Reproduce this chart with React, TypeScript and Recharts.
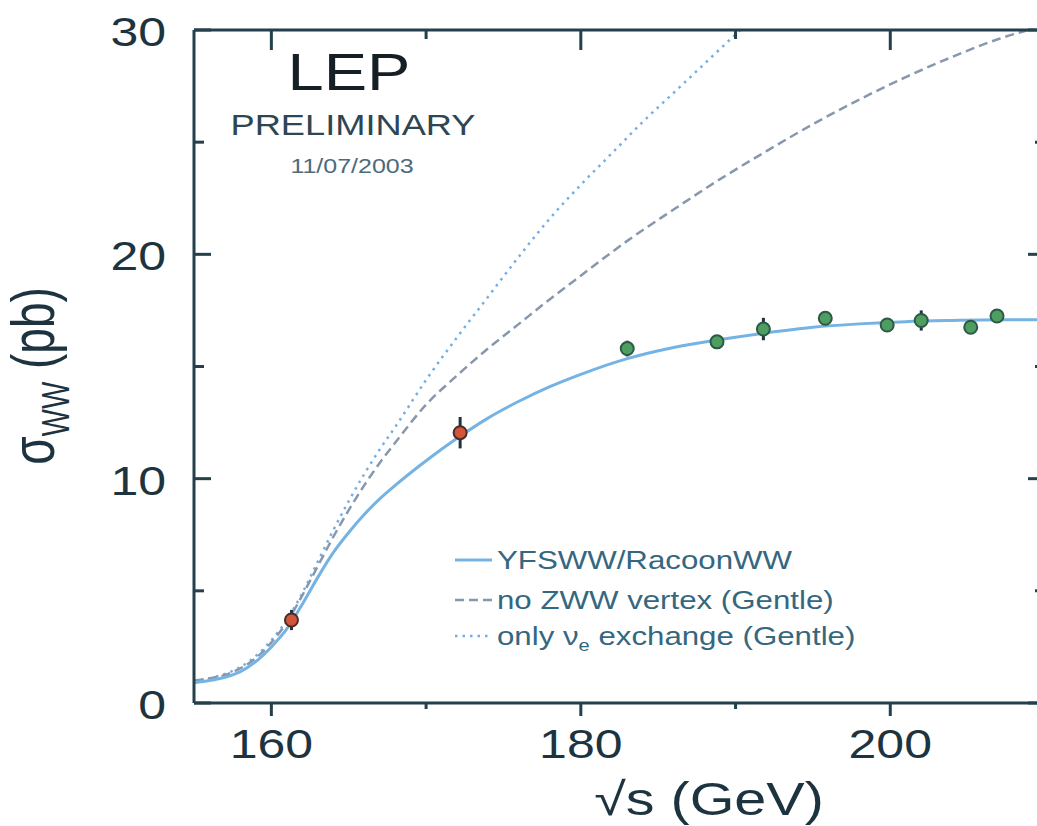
import { ComposedChart, Line, Scatter, ErrorBar, XAxis, YAxis, Legend } from 'recharts'

const FONT = '"Liberation Sans", Arial, Helvetica, sans-serif'
const FRAME = '#23404c'
const INK = '#1d3440'
const LEGEND_INK = '#35677f'
const SOLID = '#74b3e3'
const DASHED = '#8797ad'
const DOTTED = '#72aee6'
// the scanned plot is stretched sideways, so glyphs are too
const STRETCH = 1.25

// frame edges, follow from the axis sizes given below
const PLOT_LEFT = 194
const PLOT_RIGHT = 1045
const PLOT_TOP = 30
const PLOT_BOTTOM = 703

// sqrt(s) grid (GeV) for the YFSWW and no-ZWW curves
const energyGrid = [155, 156, 157, 158, 159, 160, 161, 162, 163, 164, 165, 166, 167, 168, 170, 172, 174, 176, 178, 180, 183, 186, 189, 192, 195, 198, 201, 204, 207, 210]
const yfswwXsec = [0.9, 1.0, 1.15, 1.4, 1.85, 2.5, 3.3, 4.4, 5.6, 6.7, 7.6, 8.4, 9.1, 9.7, 10.8, 11.8, 12.7, 13.45, 14.1, 14.65, 15.35, 15.85, 16.2, 16.5, 16.75, 16.9, 17.0, 17.05, 17.08, 17.08]
const noZwwXsec = [1.0, 1.1, 1.25, 1.55, 2.0, 2.7, 3.6, 4.8, 6.1, 7.4, 8.6, 9.7, 10.7, 11.6, 13.3, 14.6, 15.8, 16.9, 18.0, 19.05, 20.6, 22.0, 23.35, 24.6, 25.8, 26.9, 27.9, 28.8, 29.6, 30.2]

// only nu_e exchange, runs off the top near 190 GeV
const nueEnergy = [155, 156, 157, 158, 159, 160, 161, 162, 163, 164, 165, 166, 167, 168, 170, 172, 174, 176, 178, 180, 182, 184, 186, 188, 190, 192]
const nueXsec = [1.0, 1.1, 1.3, 1.6, 2.1, 2.8, 3.7, 4.9, 6.3, 7.7, 9.0, 10.2, 11.3, 12.3, 14.4, 16.3, 18.1, 19.9, 21.6, 23.1, 24.5, 25.9, 27.2, 28.5, 29.8, 31.0]

// LEP measurements
const thresholdEnergy = [161.3, 172.2]
const thresholdXsec = [3.7, 12.05]
const thresholdErr = [0.45, 0.7]
const lep2Energy = [183.0, 188.8, 191.8, 195.8, 199.8, 202.0, 205.2, 206.9]
const lep2Xsec = [15.8, 16.1, 16.67, 17.15, 16.85, 17.05, 16.75, 17.25]
const lep2Err = [0.35, 0.2, 0.5, 0.3, 0.3, 0.45, 0.3, 0.25]

const xTicks = [160, 170, 180, 190, 200]
const xLabels = [160, 180, 200]
const yTicks = [0, 5, 10, 15, 20, 25, 30]
const yLabels = [0, 10, 20, 30]

const zip = (xs: number[], ys: number[], errs?: number[]) =>
  xs.map((x, i) => ({ x, y: ys[i], err: errs ? errs[i] : 0 }))

const yfswwData = zip(energyGrid, yfswwXsec)
const noZwwData = zip(energyGrid, noZwwXsec)
const nueData = zip(nueEnergy, nueXsec)
const thresholdData = zip(thresholdEnergy, thresholdXsec, thresholdErr)
const lep2Data = zip(lep2Energy, lep2Xsec, lep2Err)

function Stretched({ x, y, anchor = 'middle', size, fill = INK, children }: any) {
  return (
    <g transform={`translate(${x},${y}) scale(${STRETCH},1)`}>
      <text x={0} y={0} textAnchor={anchor} fontSize={size} fill={fill} fontFamily={FONT}>
        {children}
      </text>
    </g>
  )
}

// ticks point into the frame, except on the bottom axis where the scan shows them outside
function BottomTick({ payload }: any) {
  const x = payload.coordinate
  const major = xLabels.includes(payload.value)
  return (
    <g>
      <line x1={x} y1={PLOT_BOTTOM} x2={x} y2={PLOT_BOTTOM + (major ? 13 : 6)} stroke={FRAME} strokeWidth={3} />
      {major && <Stretched x={x} y={PLOT_BOTTOM + 55} size={40}>{payload.value}</Stretched>}
    </g>
  )
}

function TopTick({ payload }: any) {
  const x = payload.coordinate
  const major = xLabels.includes(payload.value)
  return <line x1={x} y1={PLOT_TOP} x2={x} y2={PLOT_TOP + (major ? 20 : 9)} stroke={FRAME} strokeWidth={3} />
}

function LeftTick({ payload }: any) {
  const y = payload.coordinate
  const major = yLabels.includes(payload.value)
  return (
    <g>
      <line x1={PLOT_LEFT} y1={y} x2={PLOT_LEFT + (major ? 17 : 10)} y2={y} stroke={FRAME} strokeWidth={3} />
      {major && <Stretched x={PLOT_LEFT - 28} y={y + 16} anchor="end" size={40}>{payload.value}</Stretched>}
    </g>
  )
}

function RightTick({ payload }: any) {
  const y = payload.coordinate
  const major = yLabels.includes(payload.value)
  return <line x1={PLOT_RIGHT} y1={y} x2={PLOT_RIGHT - (major ? 17 : 10)} y2={y} stroke={FRAME} strokeWidth={3} />
}

function Marker({ cx, cy, fill, stroke }: any) {
  return <circle cx={cx} cy={cy} r={6.5} fill={fill} stroke={stroke} strokeWidth={2} />
}

function LegendBox() {
  const rows = [
    { mid: 25, stroke: SOLID, dash: undefined, width: 3 },
    { mid: 65, stroke: DASHED, dash: '9 5', width: 2.5 },
    { mid: 101, stroke: DOTTED, dash: '2.5 5', width: 2.5 },
  ]
  return (
    <svg width={480} height={120} style={{ overflow: 'visible' }}>
      {rows.map((r, i) => (
        <line key={i} x1={5} x2={42} y1={r.mid} y2={r.mid} stroke={r.stroke} strokeWidth={r.width} strokeDasharray={r.dash} />
      ))}
      <Stretched x={47} y={34} anchor="start" size={25} fill={LEGEND_INK}>YFSWW/RacoonWW</Stretched>
      <Stretched x={47} y={74} anchor="start" size={25} fill={LEGEND_INK}>no ZWW vertex (Gentle)</Stretched>
      <Stretched x={47} y={110} anchor="start" size={25} fill={LEGEND_INK}>
        only ν<tspan fontSize={16} dy={6}>e</tspan><tspan dy={-6}> exchange (Gentle)</tspan>
      </Stretched>
    </svg>
  )
}

const axisStyle = { stroke: FRAME, strokeWidth: 3 }

export default function App() {
  return (
    <div style={{ position: 'absolute', left: 0, top: 0, width: 1037, height: 826, overflow: 'hidden', background: '#fff' }}>
      <ComposedChart width={1060} height={826} margin={{ top: 0, right: 0, bottom: 0, left: 0 }}>
        <XAxis
          dataKey="x"
          type="number"
          domain={[155, 210]}
          ticks={xTicks}
          allowDataOverflow
          height={123}
          axisLine={axisStyle}
          tickLine={false}
          tickSize={0}
          tickMargin={0}
          tick={<BottomTick />}
          interval={0}
        />
        <XAxis
          xAxisId="top"
          orientation="top"
          dataKey="x"
          type="number"
          domain={[155, 210]}
          ticks={xTicks}
          allowDataOverflow
          height={30}
          axisLine={axisStyle}
          tickLine={false}
          tickSize={0}
          tickMargin={0}
          tick={<TopTick />}
          interval={0}
        />
        <YAxis
          type="number"
          domain={[0, 30]}
          ticks={yTicks}
          allowDataOverflow
          width={194}
          axisLine={axisStyle}
          tickLine={false}
          tickSize={0}
          tickMargin={0}
          tick={<LeftTick />}
          interval={0}
        />
        <YAxis
          yAxisId="right"
          orientation="right"
          type="number"
          domain={[0, 30]}
          ticks={yTicks}
          allowDataOverflow
          width={15}
          axisLine={axisStyle}
          tickLine={false}
          tickSize={0}
          tickMargin={0}
          tick={<RightTick />}
          interval={0}
        />
        <Legend
          layout="vertical"
          align="center"
          verticalAlign="middle"
          content={<LegendBox />}
          wrapperStyle={{ left: 450, top: 535, width: 480 }}
        />
        <Line data={nueData} dataKey="y" type="monotone" stroke={DOTTED} strokeWidth={2.5} strokeDasharray="2.5 5" dot={false} isAnimationActive={false} />
        <Line data={noZwwData} dataKey="y" type="monotone" stroke={DASHED} strokeWidth={2.5} strokeDasharray="9 5" dot={false} isAnimationActive={false} />
        <Line data={yfswwData} dataKey="y" type="monotone" stroke={SOLID} strokeWidth={3} dot={false} isAnimationActive={false} />
        <Scatter data={thresholdData} dataKey="y" shape={<Marker fill="#d2553a" stroke="#4a2c28" />} isAnimationActive={false}>
          <ErrorBar dataKey="err" direction="y" width={0} stroke="#1e3440" strokeWidth={3} />
        </Scatter>
        <Scatter data={lep2Data} dataKey="y" shape={<Marker fill="#4e9e62" stroke="#2d5a44" />} isAnimationActive={false}>
          <ErrorBar dataKey="err" direction="y" width={0} stroke="#1e3440" strokeWidth={3} />
        </Scatter>
      </ComposedChart>
      <svg width={1037} height={826} style={{ position: 'absolute', left: 0, top: 0, pointerEvents: 'none' }}>
        <Stretched x={349} y={90} size={52} fill="#151f24">LEP</Stretched>
        <Stretched x={353} y={135} size={29} fill="#2e4652">PRELIMINARY</Stretched>
        <Stretched x={352} y={173} size={20} fill="#4d6b7a">11/07/2003</Stretched>
        <Stretched x={709} y={815} size={46}>√s (GeV)</Stretched>
        <g transform={`translate(54,376) scale(1.32,1) rotate(-90)`}>
          <text x={0} y={0} textAnchor="middle" fontSize={46} fill={INK} fontFamily={FONT}>
            σ<tspan fontSize={29} dy={11}>WW</tspan><tspan dy={-11}> (pb)</tspan>
          </text>
        </g>
      </svg>
    </div>
  )
}
